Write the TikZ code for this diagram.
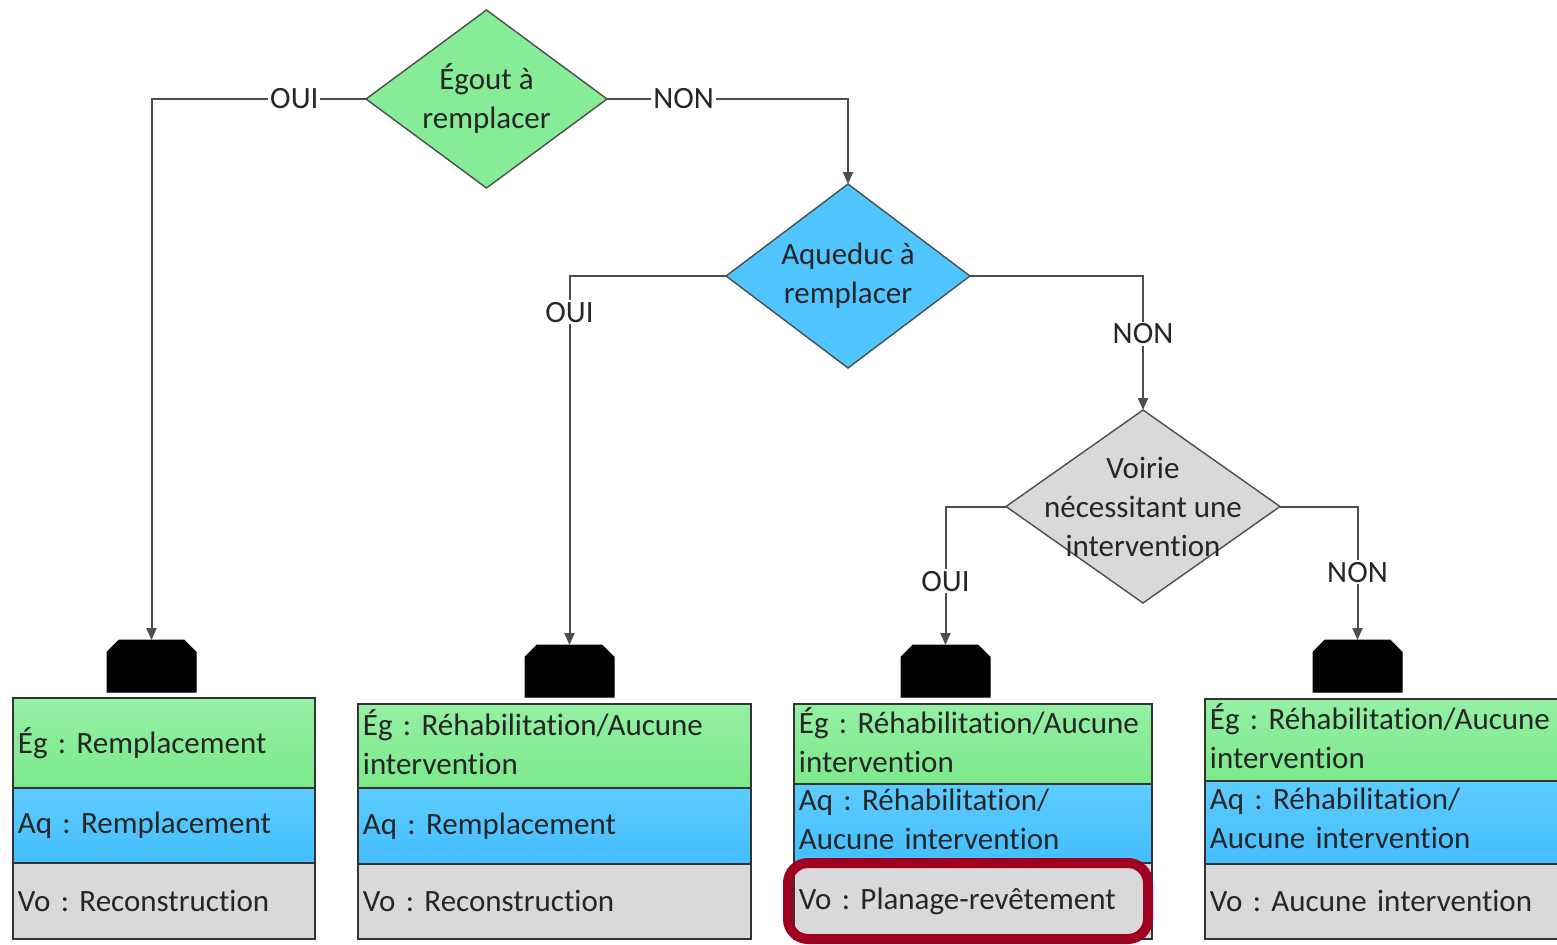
\documentclass[tikz,border=0pt]{standalone}
\usepackage{fontspec}
\setmainfont{Carlito}[Ligatures=NoCommon]
\usetikzlibrary{shapes.geometric,arrows.meta}
\definecolor{txt}{HTML}{262626}
\definecolor{lnc}{HTML}{4D4D4D}
\definecolor{bord}{HTML}{333333}
\definecolor{gtop}{HTML}{95F0A4}
\definecolor{gbot}{HTML}{7BE98B}
\definecolor{gmid}{HTML}{86EC97}
\definecolor{btop}{HTML}{5DCCFF}
\definecolor{bbot}{HTML}{44BEFF}
\definecolor{bmid}{HTML}{50C5FF}
\definecolor{gr}{HTML}{D9D9D9}
\definecolor{hlred}{HTML}{A0001F}
\frenchspacing
\begin{document}
\begin{tikzpicture}[x=0.5pt,y=-0.5pt,
  font=\fontsize{15.5pt}{19.5pt}\selectfont, text=txt,
  dia/.style={diamond, draw=lnc, line width=0.7pt, inner sep=0pt, outer sep=0pt},
  diatext/.style={align=center, inner sep=0pt},
  tab/.style={rectangle, minimum width=44.5pt, minimum height=26pt, inner sep=0pt, outer sep=0pt},
  tabfill/.style={fill=black, draw=black, line width=0.5pt},
  conn/.style={draw=lnc, line width=1pt, -{Triangle[length=6pt,width=5pt]}},
  lab/.style={fill=white, inner sep=1pt, text=txt},
  cell/.style={rectangle, draw=bord, line width=0.9pt, anchor=north west,
    inner xsep=2.5pt, inner ysep=0pt, align=left},
  twol/.style={text depth=23.5pt},
  gcell/.style={cell, top color=gtop, bottom color=gbot},
  bcell/.style={cell, top color=btop, bottom color=bbot},
  ycell/.style={cell, fill=gr},
  hl/.style={draw=hlred, line width=5pt, rounded corners=10pt, inner sep=0pt},
]
\useasboundingbox (0,0) rectangle (1557,944);

% decisions
\node[dia, fill=gmid, minimum width=120.5pt, minimum height=89pt] (d1) at (486.5,99) {};
\node[diatext] (d1t) at (d1) {Égout à\\remplacer};
\node[dia, fill=bmid, minimum width=122pt, minimum height=92pt] (d2) at (848,276) {};
\node[diatext] (d2t) at (d2) {Aqueduc à\\remplacer};
\node[dia, fill=gr, minimum width=137pt, minimum height=96.5pt] (d3) at (1143,506.5) {};
\node[diatext] (d3t) at (d3) {Voirie\\nécessitant une\\intervention};

% tabs
\foreach \n/\x/\y in {t1/151.5/666, t2/569.5/671, t3/945.5/671, t4/1357.5/666}{
  \node[tab] (\n) at (\x,\y) {};
  \path[tabfill] (\n.south west) -- ([yshift=-6pt]\n.north west) -- ([xshift=6pt]\n.north west)
    -- ([xshift=-6pt]\n.north east) -- ([yshift=-6pt]\n.north east) -- (\n.south east) -- cycle;
}

% connectors
\draw[conn] (d1.west) -| node[lab, pos=0.167] (l1) {OUI} (t1.north);
\draw[conn] (d1.east) -| node[lab, pos=0.159] (l2) {NON} (d2.north);
\draw[conn] (d2.west) -| node[lab, pos=0.549] (l3) {OUI} (t2.north);
\draw[conn] (d2.east) -| node[lab, pos=0.716] (l4) {NON} (d3.north);
\draw[conn] (d3.west) -| node[lab, pos=0.77] (l5) {OUI} (t3.north);
\draw[conn] (d3.east) -| node[lab, pos=0.746] (l6) {NON} (t4.north);

% result boxes
\node[gcell, text width=146pt, minimum height=45pt] (b1g) at (12,697) {Ég : Remplacement};
\node[bcell, text width=146pt, minimum height=37.5pt] (b1b) at (12,787) {Aq : Remplacement};
\node[ycell, text width=146pt, minimum height=38pt] (b1v) at (12,862) {Vo : Reconstruction};

\node[gcell, twol, text width=191.5pt, minimum height=42pt] (b2g) at (357,703) {Ég : Réhabilitation/Aucune\\intervention};
\node[bcell, text width=191.5pt, minimum height=38pt] (b2b) at (357,787) {Aq : Remplacement};
\node[ycell, text width=191.5pt, minimum height=37.5pt] (b2v) at (357,863) {Vo : Reconstruction};

\node[gcell, twol, text width=174pt, minimum height=40pt] (b3g) at (793,703) {Ég : Réhabilitation/Aucune\\intervention};
\node[bcell, twol, text width=174pt, minimum height=39.5pt] (b3b) at (793,783) {Aq : Réhabilitation/\\Aucune intervention};
\node[ycell, text width=174pt, minimum height=38pt] (b3v) at (793,862) {Vo : Planage-revêtement};

\node[gcell, twol, text width=174pt, minimum height=41pt] (b4g) at (1204,698) {Ég : Réhabilitation/Aucune\\intervention};
\node[bcell, twol, text width=174pt, minimum height=41.5pt] (b4b) at (1204,780) {Aq : Réhabilitation/\\Aucune intervention};
\node[ycell, text width=174pt, minimum height=37.5pt] (b4v) at (1204,863) {Vo : Aucune intervention};

% highlight
\node[hl, minimum width=180pt, minimum height=38pt] (hl) at (968,901) {};
\end{tikzpicture}
\end{document}
